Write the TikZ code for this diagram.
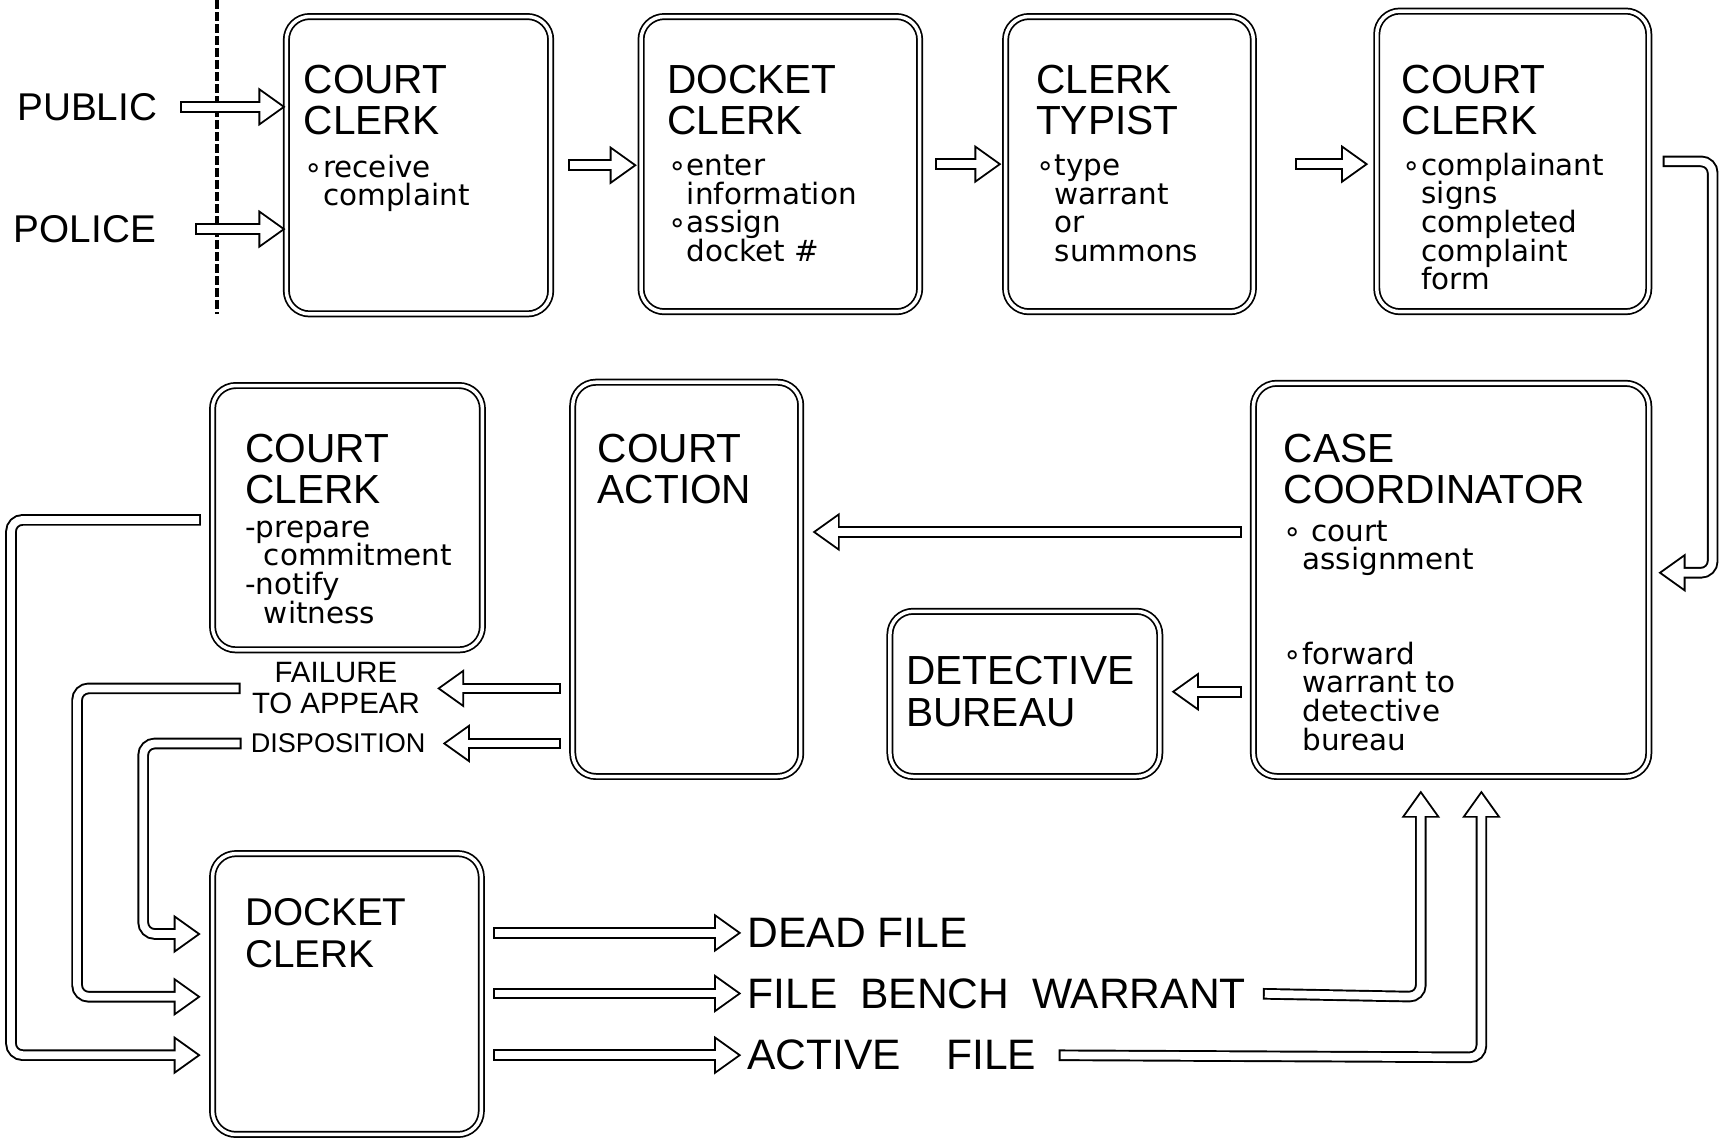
\documentclass[tikz,border=0pt]{standalone}
\usepackage{fontspec}
\setmainfont{Liberation Sans}
\newfontfamily\notefont{DejaVu Sans}
\usetikzlibrary{arrows.meta,fit}
\newcommand\myb{∘}
\newcommand\notesetup{\notefont\fontsize{7.6}{7.4}\selectfont\setlength{\lineskiplimit}{-5pt}\relax}
\begin{document}
\begin{tikzpicture}[x=0.1mm,y=-0.1mm,
  box/.style={draw, double, double distance=0.9pt, line width=0.45pt, rounded corners=6pt, inner sep=0pt},
  title/.style={anchor=north west, inner sep=0pt, align=left, font=\fontsize{10.5}{10.8}\selectfont},
  note/.style={anchor=north west, inner sep=0pt, align=left, font=\notesetup},
  lbl/.style={inner sep=0pt, font=\fontsize{11}{12}\selectfont},
  tiny/.style={inner sep=0pt, align=center, font=\fontsize{7.6}{8}\selectfont},
  harrow/.style={draw=white, line width=2pt, line cap=rect, rounded corners=3pt,
    -{Triangle[length=5.64pt, width=8.06pt, line width=0pt, sep=0.86pt]},
    preaction={draw=black, line width=3pt, line cap=rect, -{Triangle[length=7pt, width=10pt, line width=0pt]}}}
]
\fill[white] (0,0) rectangle (1568,1034);
\useasboundingbox (0,0) rectangle (1568,1034);

% boxes
\node[box, fit={(260,15) (500,285)}] (A) {};
\node[box, fit={(582,15) (835,283)}] (B) {};
\node[box, fit={(913,15) (1138,283)}] (C) {};
\node[box, fit={(1250,10) (1497,283)}] (D) {};
\node[box, fit={(193,350) (438,590)}] (E) {};
\node[box, fit={(520,347) (727,705)}] (F) {};
\node[box, fit={(1138,348) (1497,705)}] (G) {};
\node[box, fit={(808,555) (1053,705)}] (H) {};
\node[box, fit={(193,775) (437,1030)}] (I) {};

% texts in boxes
\node[title] (At) at (275,58) {COURT\\CLERK};
\node[note] (An) at (276,140) {\myb receive\\\ \ complaint};
\node[title] (Bt) at (605,58) {DOCKET\\CLERK};
\node[note] (Bn) at (606,140) {\myb enter\\\ \ information\\\myb assign\\\ \ docket \#};
\node[title] (Ct) at (940,58) {CLERK\\TYPIST};
\node[note] (Cn) at (940,140) {\myb type\\\ \ warrant\\\ \ or\\\ \ summons};
\node[title] (Dt) at (1272,58) {COURT\\CLERK};
\node[note] (Dn) at (1273,138) {\myb complainant\\\ \ signs\\\ \ completed\\\ \ complaint\\\ \ form};
\node[title] (Et) at (222,393) {COURT\\CLERK};
\node[note] (En) at (222,472) {-prepare\\\ \ commitment\\-notify\\\ \ witness};
\node[title] (Ft) at (542,393) {COURT\\ACTION};
\node[title] (Gt) at (1165,393) {CASE\\COORDINATOR};
\node[note] (Gn1) at (1165,472) {\myb\ court\\\ \ assignment};
\node[note] (Gn2) at (1165,582) {\myb forward\\\ \ warrant to\\\ \ detective\\\ \ bureau};
\node[title] (Ht) at (822,595) {DETECTIVE\\BUREAU};
\node[title, font=\fontsize{10}{10.8}\selectfont] (It) at (222,815) {DOCKET\\CLERK};

% sources
\node[lbl, anchor=west, font=\fontsize{10}{12}\selectfont] (pub) at (15,97) {PUBLIC};
\node[lbl, anchor=west, font=\fontsize{10}{12}\selectfont] (pol) at (12,208) {POLICE};
\coordinate (dtop) at (197,0);
\coordinate (dbot) at (197,285);
\draw[line width=0.9pt, dash pattern=on 2.2pt off 0.9pt] (dtop) -- (dbot);
\draw[harrow, shorten <=2.5mm] (pub.east) -- (pub.east -| A.west);
\draw[harrow, shorten <=4mm] (pol.east) -- (pol.east -| A.west);

% top row
\draw[harrow, shorten <=2mm, shorten >=0.3mm] (A.east) -- (A.east -| B.west);
\draw[harrow, shorten <=1.8mm, shorten >=0.3mm] (B.east) -- (B.east -| C.west);
\draw[harrow, shorten <=4.2mm, shorten >=0.7mm] (C.east) -- (C.east -| D.west);
\coordinate (dg) at (1555,520);
\draw[harrow, shorten <=1.7mm, shorten >=0.8mm] (D.east) -| (dg) -- (dg -| G.east);

% middle row
\draw[harrow, shorten <=1.5mm, shorten >=1mm] (G.west |- 0,483) -- (F.east |- 0,483);
\draw[harrow, shorten <=1.5mm, shorten >=1mm] (G.west |- 0,628) -- (H.east |- 0,628);

\node[tiny] (fail) at (305,625) {FAILURE\\TO APPEAR};
\node[tiny, font=\fontsize{7}{8}\selectfont] (disp) at (307,675) {DISPOSITION};
\draw[harrow, shorten <=1.5mm, shorten >=1.5mm] (F.west |- fail) -- (fail.east);
\draw[harrow, shorten <=1.5mm, shorten >=1.5mm] (F.west |- disp) -- (disp.east);
\coordinate (f1) at (70,625);
\coordinate (f2) at (70,905);
\draw[harrow, shorten <=1.5mm, shorten >=1mm] (fail.west) -- (f1) -- (f2) -- (f2 -| I.west);
\coordinate (d1) at (130,675);
\coordinate (d2) at (130,848);
\draw[harrow, shorten <=1.3mm, shorten >=1mm] (disp.west) -- (d1) -- (d2) -- (d2 -| I.west);
\coordinate (e1) at (10,472);
\coordinate (e2) at (10,958);
\draw[harrow, shorten <=1.5mm, shorten >=1mm] (E.west |- e1) -- (e1) -- (e2) -- (e2 -| I.west);

% outputs
\node[lbl, anchor=west] (dead) at (678,847) {DEAD FILE};
\node[lbl, anchor=west] (bench) at (678,902) {FILE\hspace{1mm} BENCH\hspace{1mm} WARRANT};
\node[lbl, anchor=west] (active) at (678,958) {ACTIVE\hspace{3mm} FILE};
\draw[harrow, shorten <=1.5mm, shorten >=0.5mm] (I.east |- dead) -- (dead.west);
\draw[harrow, shorten <=1.5mm, shorten >=0.5mm] (I.east |- bench) -- (bench.west);
\draw[harrow, shorten <=1.5mm, shorten >=0.5mm] (I.east |- active) -- (active.west);
\coordinate (b1) at (1290,905);
\coordinate (a1) at (1345,960);
\draw[harrow, shorten <=2mm, shorten >=1.2mm] (bench.east) -- (b1) -- (b1 |- G.south);
\draw[harrow, shorten <=2.5mm, shorten >=1.2mm] (active.east) -- (a1) -- (a1 |- G.south);
\end{tikzpicture}
\end{document}
